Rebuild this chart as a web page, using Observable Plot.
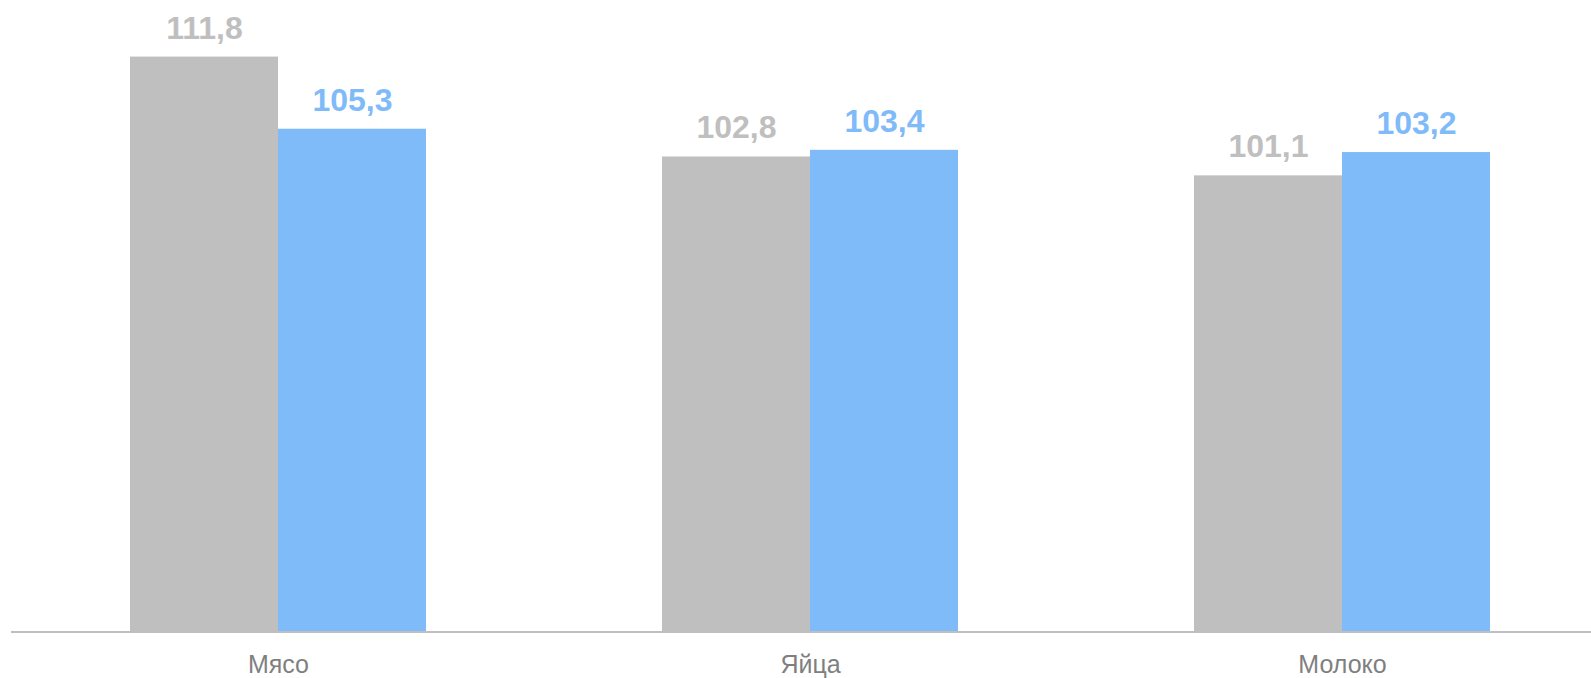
<!DOCTYPE html>
<html><head><meta charset="utf-8">
<script src="https://cdn.jsdelivr.net/npm/d3@7"></script>
<script src="https://cdn.jsdelivr.net/npm/@observablehq/plot@0.6"></script>
<style>body{margin:0;background:#fff}</style>
</head><body><div id="chart"></div>
<script>
const categories = ["Мясо", "Яйца", "Молоко"];
const seriesGray = [111.8, 102.8, 101.1];
const seriesBlue = [105.3, 103.4, 103.2];
const yBase = 60;

const gray = "#bfbfbf";
const blue = "#7fbaf9";
const fmt = v => v.toFixed(1).replace(".", ",");

const chart = Plot.plot({
  width: 1591,
  height: 678,
  marginTop: 0,
  marginBottom: 46.5,
  marginLeft: 11,
  marginRight: 0,
  style: {fontFamily: "'Liberation Sans', Arial, sans-serif", background: "#fff"},
  x: {domain: categories, range: [11, 1608], paddingInner: 0.444, paddingOuter: 0.222, label: null},
  y: {domain: [yBase, 116.9], axis: null},
  marks: [
    Plot.barY(categories, {x: d => d, y1: yBase, y2: (d, i) => seriesGray[i], fill: gray, insetRight: 148}),
    Plot.barY(categories, {x: d => d, y1: yBase, y2: (d, i) => seriesBlue[i], fill: blue, insetLeft: 148}),
    Plot.ruleY([yBase], {stroke: gray, strokeWidth: 2}),
    Plot.text(categories, {x: d => d, y: (d, i) => seriesGray[i], text: (d, i) => fmt(seriesGray[i]), dx: -74, dy: -18.5, lineAnchor: "bottom", fill: gray, fontWeight: "bold", fontSize: 32}),
    Plot.text(categories, {x: d => d, y: (d, i) => seriesBlue[i], text: (d, i) => fmt(seriesBlue[i]), dx: 74, dy: -18.5, lineAnchor: "bottom", fill: blue, fontWeight: "bold", fontSize: 32}),
    Plot.axisX({tickSize: 0, tickPadding: 23, fontSize: 25, color: "#7f7f7f", label: null})
  ]
});
document.getElementById("chart").append(chart);
</script>
</body></html>
